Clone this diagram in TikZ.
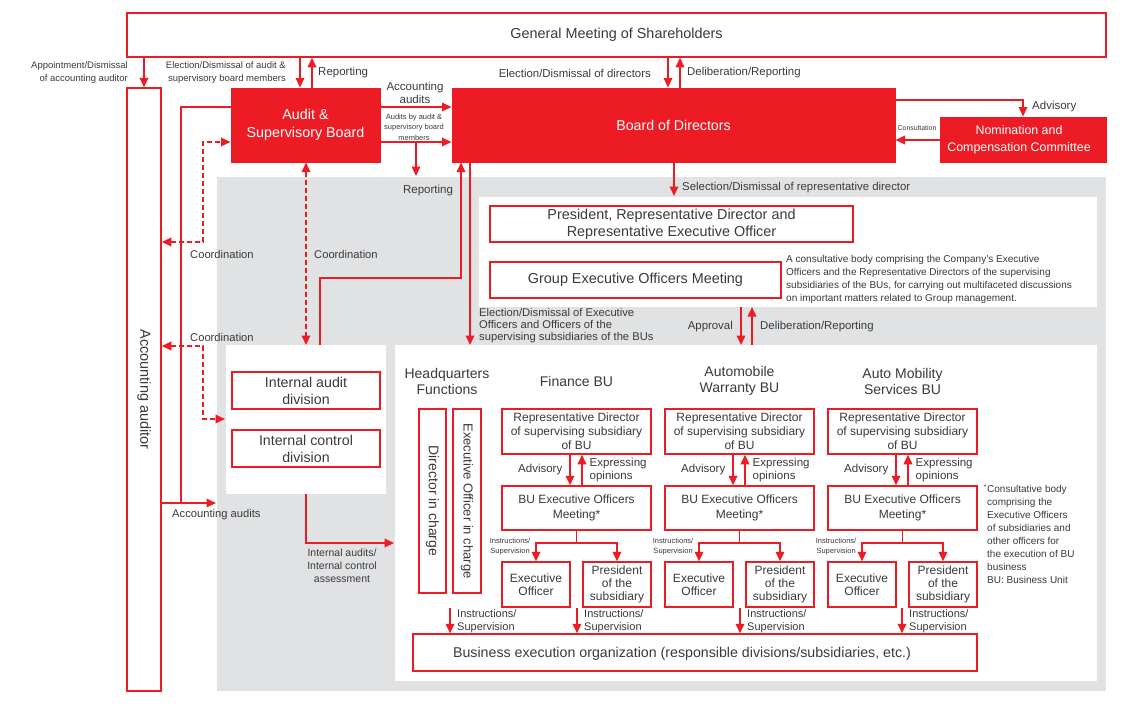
\documentclass[tikz,border=0pt]{standalone}
\usepackage{fontspec}
\setmainfont{Liberation Sans}
\usetikzlibrary{arrows.meta}
\definecolor{cred}{HTML}{ED1C24}
\definecolor{cgray}{HTML}{E1E2E4}
\definecolor{ctxt}{HTML}{3A3A3A}
\newcommand{\fs}[2]{\fontsize{#1}{#2}\selectfont}
\begin{document}
\begin{tikzpicture}[x=1pt,y=-1pt,
  rbox/.style={draw=cred,line width=1.5pt,fill=white,text=ctxt,align=center,inner sep=0pt},
  fbox/.style={draw=cred,line width=1pt,fill=cred,text=white,align=center,inner sep=0pt},
  arr/.style={draw=cred,line width=1.8pt,-{Triangle[length=9.5pt,width=8.5pt]}},
  arrd/.style={draw=cred,line width=1.8pt,{Triangle[length=9.5pt,width=8.5pt]}-{Triangle[length=9.5pt,width=8.5pt]},dash pattern=on 5pt off 3pt},
  ln/.style={draw=cred,line width=1.8pt},
  lab/.style={text=ctxt,inner sep=0pt,align=center},
]
\useasboundingbox (0,0) rectangle (1148,720);
% backgrounds
\fill[cgray] (217,177) rectangle (1106,691);
\fill[white] (479,197) rectangle (1097,307);
\fill[white] (226,345) rectangle (386,494);
\fill[white] (395,345) rectangle (1097,681);

% main nodes
\node[rbox,minimum width=979pt,minimum height=44pt,font=\fs{14.4}{17}] (gms) at (616.5,35) {General Meeting of Shareholders};
\node[rbox,minimum width=34pt,minimum height=603pt,font=\fs{14.5}{16}] (acc) at (144,389.5) {\rotatebox{-90}{Accounting auditor}};
\node[fbox,minimum width=149pt,minimum height=74pt,font=\fs{14.3}{18}] (asb) at (305.5,125) {\raisebox{-2pt}{Audit \&}\\\raisebox{-2pt}{Supervisory Board}};
\node[fbox,minimum width=443pt,minimum height=74pt,font=\fs{14.2}{17}] (bod) at (673.5,125) {Board of Directors};
\node[fbox,minimum width=166pt,minimum height=45pt,font=\fs{12.4}{17}] (ncc) at (1023,139.5) {Nomination and\hspace*{8pt}\\Compensation Committee\hspace*{8pt}};
\node[rbox,minimum width=363pt,minimum height=36pt,font=\fs{14.4}{17}] (pres) at (671.5,224) {President, Representative Director and\\Representative Executive Officer};
\node[rbox,minimum width=291pt,minimum height=36pt,font=\fs{14.4}{17}] (geom) at (635.5,280) {Group Executive Officers Meeting};
\node[lab,anchor=north west,align=left,font=\fs{10}{13}] (desc) at (786,255) {A consultative body comprising the Company’s Executive\\Officers and the Representative Directors of the supervising\\subsidiaries of the BUs, for carrying out multifaceted discussions\\on important matters related to Group management.};
\node[rbox,minimum width=148pt,minimum height=37pt,font=\fs{14.2}{17}] (iad) at (306,390.5) {Internal audit\\division};
\node[rbox,minimum width=148pt,minimum height=37pt,font=\fs{14.2}{17}] (icd) at (306,448.5) {Internal control\\division};
\node[lab,font=\fs{14}{16}] (hq) at (447,381) {Headquarters\\Functions};
\node[rbox,minimum width=27pt,minimum height=184pt,font=\fs{14}{16}] (dic) at (432.5,501) {\rotatebox{-90}{Director in charge}};
\node[rbox,minimum width=28pt,minimum height=184pt,font=\fs{13}{16}] (eoic) at (467,501) {\rotatebox{-90}{Executive Officer in charge}};

% BU columns
\foreach \i/\c/\t in {1/576.5/{Finance BU},2/739.5/{Automobile\\Warranty BU},3/902.5/{Auto Mobility\\Services BU}}{
  \node[lab,font=\fs{14}{16}] (h\i) at (\c,381) {\t};
  \node[rbox,minimum width=149pt,minimum height=45pt,font=\fs{12}{14}] (rep\i) at (\c,431.5) {Representative Director\\of supervising subsidiary\\of BU};
  \node[rbox,minimum width=149pt,minimum height=44pt,font=\fs{12}{15}] (meet\i) at (\c,508) {BU Executive Officers\\Meeting*};
  \node[rbox,minimum width=68pt,minimum height=45pt,font=\fs{12}{13}] (eo\i) at (\c-40.5,584.5) {Executive\\Officer};
  \node[rbox,minimum width=68pt,minimum height=45pt,font=\fs{12}{13}] (pr\i) at (\c+40.5,584.5) {President\\of the\\subsidiary};
  \draw[arr] ([xshift=-6.5pt]rep\i.south) -- ([xshift=-6.5pt]meet\i.north);
  \draw[arr] ([xshift=5.5pt]meet\i.north) -- ([xshift=5.5pt]rep\i.south);
  \node[lab,anchor=east,font=\fs{11.5}{13}] (adv\i) at (\c-14,470) {Advisory};
  \node[lab,anchor=west,align=left,font=\fs{11.5}{13}] (exo\i) at (\c+13,470) {Expressing\\opinions};
  \draw[ln] (meet\i.south) -- (meet\i.south |- 0,543);
  \draw[arr] (meet\i.south |- 0,543) -| (eo\i.north);
  \draw[arr] (meet\i.south |- 0,543) -| (pr\i.north);
  \node[lab,anchor=east,font=\fs{7.5}{10}] (ins\i) at (\c-46,547) {Instructions/\\Supervision};
}

% business execution organisation
\node[rbox,minimum width=564pt,minimum height=37pt] (beo) at (695,652.5) {};
\node[lab,font=\fs{14.2}{16}] (beot) at (682,654) {Business execution organization (responsible divisions/subsidiaries, etc.)};
\foreach \j/\x in {1/450,2/577,3/740,4/902}{
  \coordinate (b\j) at (\x,608);
  \draw[arr] (b\j) -- (b\j |- beo.north);
  \node[lab,anchor=west,align=left,font=\fs{11}{13}] (bl\j) at (\x+7,621) {Instructions/\\Supervision};
}

% footnote
\node[lab,anchor=north west,align=left,font=\fs{10}{13}] (fn) at (987,484) {\llap{\textsuperscript{*}}Consultative body\\comprising the\\Executive Officers\\of subsidiaries and\\other officers for\\the execution of BU\\business\\BU: Business Unit};

% top connectors
\draw[arr] (144,0 |- gms.south) -- (acc.north);
\node[lab,anchor=east,align=right,font=\fs{9.5}{13}] (l1) at (128,73) {Appointment/Dismissal\\of accounting auditor};
\draw[arr] (300,0 |- gms.south) -- (300,0 |- asb.north);
\node[lab,anchor=east,align=right,font=\fs{9.5}{13}] (l2) at (286,73) {Election/Dismissal of audit \&\\supervisory board members};
\draw[arr] (312,0 |- asb.north) -- (312,0 |- gms.south);
\node[lab,anchor=west,font=\fs{11.5}{13}] (l3) at (318,73) {Reporting};
\draw[arr] (668,0 |- gms.south) -- (668,0 |- bod.north);
\draw[arr] (680,0 |- bod.north) -- (680,0 |- gms.south);
\node[lab,anchor=east,font=\fs{11.4}{13}] (l4) at (651,73) {Election/Dismissal of directors};
\node[lab,anchor=west,font=\fs{11.4}{13}] (l5) at (687,73) {Deliberation/Reporting};

\draw[arr] (asb.east |- 0,107) -- (bod.west |- 0,107);
\node[lab,font=\fs{11.5}{13}] (l6) at (415,92.5) {Accounting\\audits};
\draw[arr] (asb.east |- 0,142) -- (bod.west |- 0,142);
\node[lab,font=\fs{7.5}{10.5}] (l7) at (414,127) {Audits by audit \&\\supervisory board\\members};
\coordinate (rp) at (416,142);
\coordinate (rpe) at (416,176);
\draw[arr] (rp) -- (rpe);
\node[lab,font=\fs{11.5}{13}] (l8) at (428,191) {Reporting};

\draw[arr] (bod.east |- 0,100) -- (1023,100) -- (ncc.north);
\node[lab,anchor=west,font=\fs{11.5}{13}] (l9) at (1032,107) {Advisory};
\draw[arr] (ncc.west |- 0,140) -- (bod.east |- 0,140);
\node[lab,font=\fs{7}{9}] (l10) at (917,128) {Consultation};

\coordinate (sel) at (674,196);
\draw[arr] (674,0 |- bod.south) -- (sel);
\node[lab,anchor=west,font=\fs{11.4}{13}] (l11) at (682,188) {Selection/Dismissal of representative director};

\coordinate (ap1) at (741,307);
\coordinate (ap2) at (741,345);
\coordinate (dr1) at (752,345);
\coordinate (dr2) at (752,307);
\draw[arr] (ap1) -- (ap2);
\draw[arr] (dr1) -- (dr2);
\node[lab,anchor=east,font=\fs{11.4}{13}] (l12) at (733,327) {Approval};
\node[lab,anchor=west,font=\fs{11.4}{13}] (l13) at (760,327) {Deliberation/Reporting};

\coordinate (eoe) at (470,345);
\draw[arr] (470,0 |- bod.south) -- (eoe);
\node[lab,anchor=west,align=left,font=\fs{11.2}{12}] (l14) at (479,326) {Election/Dismissal of Executive\\Officers and Officers of the\\supervising subsidiaries of the BUs};

\coordinate (ia1) at (320,345);
\draw[arr] (ia1) -- (320,278) -- (461,278) -- (461,0 |- bod.south);
\coordinate (ia2) at (306,345);
\draw[arrd] (306,0 |- asb.south) -- (ia2);
\node[lab,anchor=west,font=\fs{11.2}{13}] (l15) at (314,254) {Coordination};

% left side
\draw[ln] (asb.west |- 0,107) -- (181,107) -- (181,503);
\coordinate (aa) at (216,503);
\draw[arr] (acc.east |- 0,503) -- (aa);
\node[lab,anchor=west,font=\fs{11.2}{13}] (l16) at (172,515) {Accounting audits};
\draw[arrd] (acc.east |- 0,242) -- (203,242) -- (203,142) -- (asb.west |- 0,142);
\node[lab,anchor=west,font=\fs{11.2}{13}] (l17) at (190,254) {Coordination};
\coordinate (cd) at (225,419);
\draw[arrd] (acc.east |- 0,346) -- (203,346) -- (203,419) -- (cd);
\node[lab,anchor=west,font=\fs{11.2}{13}] (l18) at (190,337) {Coordination};

\coordinate (ic1) at (306,494);
\coordinate (ic2) at (394,543);
\draw[arr] (ic1) -- (306,543) -- (ic2);
\node[lab,font=\fs{10.5}{13}] (l19) at (342,566) {Internal audits/\\Internal control\\assessment};
\end{tikzpicture}
\end{document}
